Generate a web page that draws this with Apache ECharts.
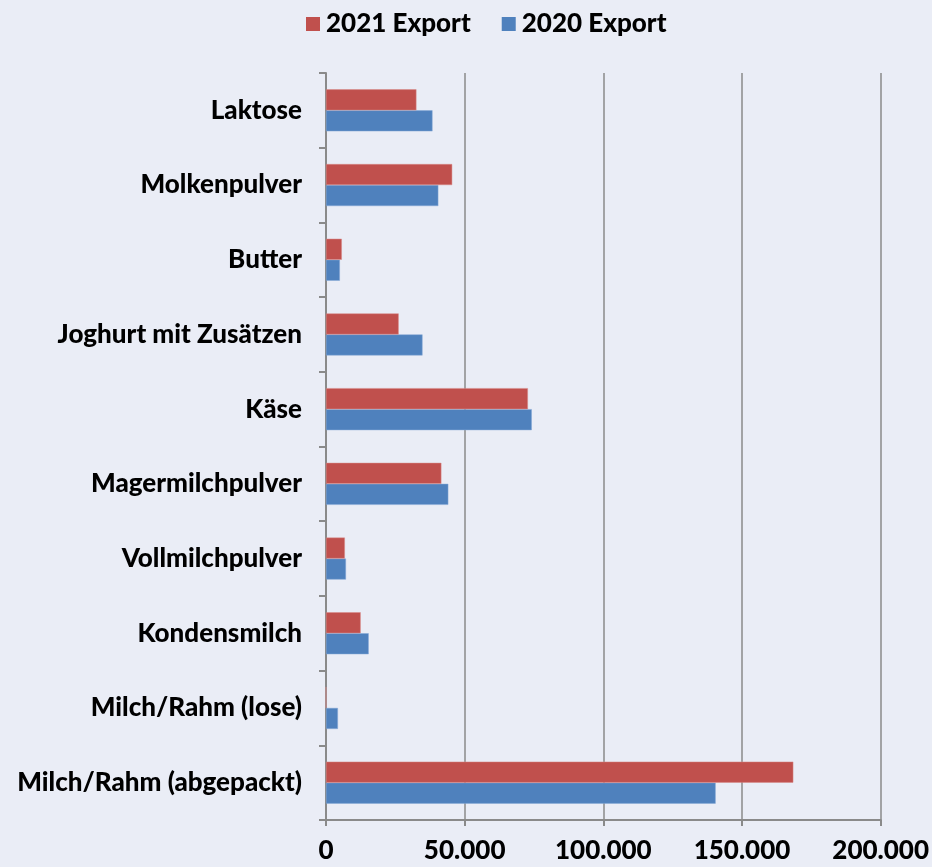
<!DOCTYPE html>
<html>
<head>
<meta charset="utf-8">
<script src="https://cdn.jsdelivr.net/npm/echarts@6/dist/echarts.min.js"></script>
<style>
  html, body { margin: 0; padding: 0; background: #eaedf6; }
  #chart { width: 932px; height: 867px; }
</style>
</head>
<body>
<div id="chart"></div>
<script>
// categories from bottom to top (category axis on y starts at the bottom)
const categories = [
  'Milch/Rahm (abgepackt)',
  'Milch/Rahm (lose)',
  'Kondensmilch',
  'Vollmilchpulver',
  'Magermilchpulver',
  'Käse',
  'Joghurt mit Zusätzen',
  'Butter',
  'Molkenpulver',
  'Laktose',
]
const export2021 = [168500, 0, 12500, 6800, 41600, 72800, 26200, 5700, 45500, 32600]
const export2020 = [140500, 4300, 15400, 7200, 44100, 74200, 34800, 5000, 40500, 38400]
const seriesNames = ['2021 Export', '2020 Export']

const fontFamily = 'Lato, "Open Sans", sans-serif'
const axisGrey = '#8a8a8a'

const chart = echarts.init(document.getElementById('chart'))

function fmt(v) {
  return String(v).replace(/\B(?=(\d{3})+(?!\d))/g, '.')
}

chart.setOption({
  backgroundColor: '#eaedf6',
  animation: false,
  color: ['#c0504d', '#4f81bd'],
  legend: {
    top: 6,
    left: 301,
    itemWidth: 14,
    itemHeight: 14,
    itemGap: 31,
    icon: 'rect',
    itemStyle: { borderWidth: 0 },
    textStyle: { fontFamily, fontWeight: 900, fontSize: 26, color: '#000', padding: [0, 0, 0, 1] },
    data: seriesNames,
  },
  grid: { left: 326, right: 46, top: 73, bottom: 47, containLabel: false },
  xAxis: {
    type: 'value',
    min: 0,
    max: 200000,
    interval: 50000,
    axisLine: { show: true, lineStyle: { color: axisGrey, width: 2 } },
    axisTick: { show: true, length: 6, lineStyle: { color: axisGrey, width: 2 } },
    splitLine: { show: true, lineStyle: { color: axisGrey, width: 1.5 } },
    axisLabel: {
      margin: 18,
      fontFamily,
      fontWeight: 900,
      fontSize: 26,
      color: '#000',
      formatter: fmt,
    },
  },
  yAxis: {
    type: 'category',
    data: categories,
    axisLine: { show: true, lineStyle: { color: axisGrey, width: 2 } },
    axisTick: { show: true, length: 7, alignWithLabel: false, lineStyle: { color: axisGrey, width: 2 } },
    axisLabel: {
      margin: 24,
      fontFamily,
      fontWeight: 900,
      fontSize: 26,
      color: '#000',
    },
  },
  series: [
    {
      name: seriesNames[0],
      type: 'bar',
      data: export2021,
      barWidth: 21,
      barGap: '0%',
      z: 3,
      itemStyle: { borderColor: '#d98a88', borderWidth: 0.5 },
    },
    {
      name: seriesNames[1],
      type: 'bar',
      data: export2020,
      barWidth: 21,
      barGap: '0%',
      itemStyle: { borderColor: '#86a8d6', borderWidth: 0.5 },
    },
  ],
})
</script>
</body>
</html>
